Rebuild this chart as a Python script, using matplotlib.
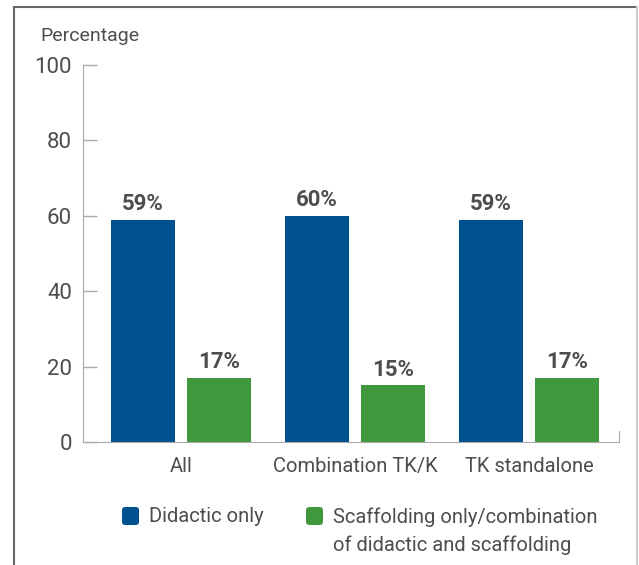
import matplotlib.pyplot as plt
from matplotlib.lines import Line2D
from matplotlib.patches import FancyBboxPatch
import numpy as np

# data
categories = ["All", "Combination TK/K", "TK standalone"]
didactic = [59, 60, 59]
scaffolding = [17, 15, 17]
series_names = ["Didactic only", "Scaffolding only/combination\nof didactic and scaffolding"]
yticks = [0, 20, 40, 60, 80, 100]

blue = "#00518f"
green = "#3f973e"
text_col = "#4d4d4d"
axis_col = "#aaaaaa"

plt.rcParams['font.family'] = ['Roboto', 'DejaVu Sans']

W, H = 639, 565
fig = plt.figure(figsize=(W / 100, H / 100), dpi=100)
ax = fig.add_axes([0.130, 0.2177, 0.839, 0.6673])

x = np.arange(len(categories))
w = 0.365
off = 0.218
b1 = ax.bar(x - off, didactic, w, color=blue)
b2 = ax.bar(x + off, scaffolding, w, color=green)

# value labels
for bars, vals in ((b1, didactic), (b2, scaffolding)):
    for rect, v in zip(bars, vals):
        ax.text(rect.get_x() + rect.get_width() / 2, v + 1.2, f"{v}%",
                ha="center", va="bottom", fontsize=16, fontweight="bold", color=text_col)

ax.set_xlim(-0.563, 2.517)
ax.set_ylim(0, 100)
ax.set_yticks(yticks)
ax.set_xticks(x)
ax.set_xticklabels(categories)
ax.tick_params(axis="y", direction="in", length=10, width=1, color=axis_col,
               labelsize=16, labelcolor=text_col, pad=8)
ax.tick_params(axis="x", length=0, labelsize=14.5, labelcolor=text_col, pad=11)

ax.spines["top"].set_visible(False)
for s in ("left", "bottom", "right"):
    ax.spines[s].set_color(axis_col)
ax.spines["right"].set_bounds(0, 3)

fig.text(40 / W, 1 - 41 / H, "Percentage", fontsize=14, color=text_col, ha="left", va="baseline")

# legend drawn by hand: rounded squares and two text blocks
legend_cols = [blue, green]
box_x = [122, 306]
for col, bx, name in zip(legend_cols, box_x, series_names):
    fig.add_artist(FancyBboxPatch((bx / W, 1 - 525 / H), 17 / W, 18 / H,
                                  boxstyle="round,pad=0,rounding_size=0.005",
                                  transform=fig.transFigure, facecolor=col, edgecolor="none"))
    fig.text((bx + 27) / W, 1 - 507 / H, name, fontsize=14.5, color=text_col,
             ha="left", va="top", linespacing=1.55)

# frame around the figure (left/top dark, right light)
fig.add_artist(Line2D([14 / W, 14 / W], [0, 1 - 7 / H], color="#666666", lw=1.5))
fig.add_artist(Line2D([14 / W, 637 / W], [1 - 7 / H, 1 - 7 / H], color="#666666", lw=1.5))
fig.add_artist(Line2D([637 / W, 637 / W], [0, 1 - 7 / H], color="#cccccc", lw=1.5))

fig.savefig("out.png", dpi=100)
